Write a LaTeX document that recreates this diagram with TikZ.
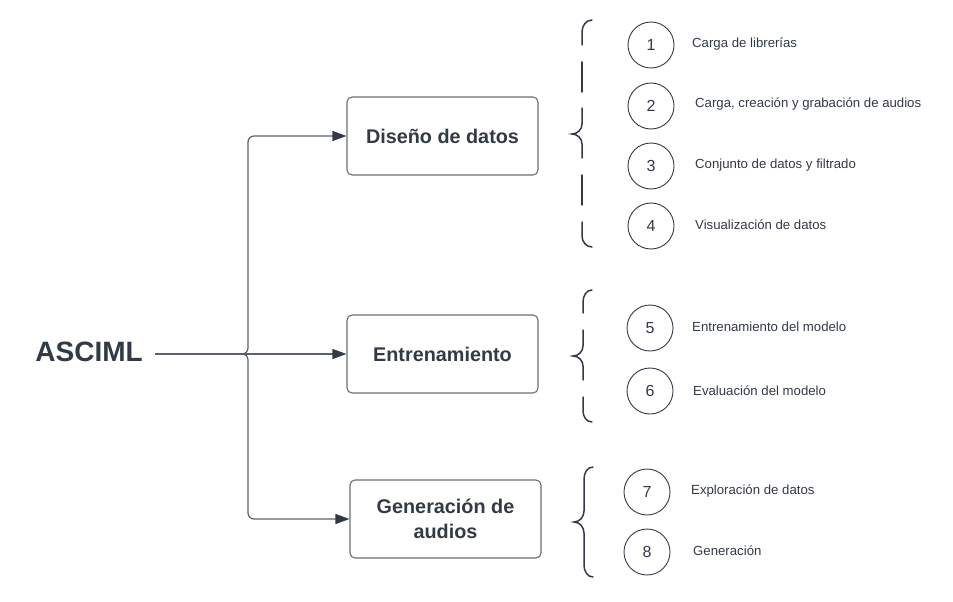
\documentclass[tikz,border=0pt]{standalone}
\usepackage{fontspec}
\setmainfont{Liberation Sans}
\usetikzlibrary{arrows.meta}
\definecolor{txt}{HTML}{333A45}
\definecolor{ln}{HTML}{5A616B}
\definecolor{bx}{HTML}{6A6E75}
\tikzset{
  box/.style={draw=bx, line width=1.1pt, rounded corners=5pt, minimum width=191pt, minimum height=78pt, align=center, font=\fontsize{19.8}{23}\selectfont\bfseries, text=txt, inner sep=0pt},
  num/.style={draw=txt, line width=0.9pt, circle, minimum size=46pt, inner sep=0pt, font=\fontsize{16}{18}\selectfont, text=txt},
  lbl/.style={anchor=west, font=\fontsize{13.2}{15}\selectfont, text=txt, inner sep=0pt},
  conn/.style={draw=ln, line width=1.2pt, rounded corners=6pt},
  arr/.style={-{Triangle[length=14pt,width=10pt,color=txt]}},
  brc/.style={draw=txt, line width=1.5pt, line cap=round}
}
\begin{document}
\begin{tikzpicture}[x=1pt,y=-1pt]
\useasboundingbox (0,0) rectangle (953,602);
\node[anchor=east, font=\fontsize{28}{32}\selectfont\bfseries, text=txt, inner sep=0pt] (asciml) at (143,352) {ASCIML};
\coordinate (start) at (155,354);
\coordinate (j) at (248,354);
\node[box] (b1) at (442.5,136) {Diseño de datos};
\node[box] (b2) at (442.5,354) {Entrenamiento};
\node[box] (b3) at (445.5,519) {Generación de\\[2pt]audios};
\coordinate (t1) at (j |- b1.west);
\coordinate (t3) at (j |- b3.west);
\draw[conn,arr] (start) -- (b2.west);
\draw[conn,arr] (start) -- (j) -- (t1) -- (b1.west);
\draw[conn,arr] (start) -- (j) -- (t3) -- (b3.west);
% brace 1 (dashed)
\draw[brc] (592,20) to[out=180,in=90] (582,32) -- (582,45);
\draw[brc] (582,62) -- (582,92);
\draw[brc] (582,108) -- (582,124) to[out=-90,in=0] (572,134) to[out=0,in=90] (582,144) -- (582,158);
\draw[brc] (582,175) -- (582,205);
\draw[brc] (582,222) -- (582,236) to[out=-90,in=180] (592,247);
% brace 2 (dashed)
\draw[brc] (592,290) to[out=180,in=90] (583,302) -- (583,313);
\draw[brc] (583,330) -- (583,346) to[out=-90,in=0] (573,356) to[out=0,in=90] (583,366) -- (583,380);
\draw[brc] (583,397) -- (583,411) to[out=-90,in=180] (592,422);
% brace 3 (solid)
\draw[brc] (593,467) to[out=180,in=90] (584,479) -- (584,511) to[out=-90,in=0] (574,522) to[out=0,in=90] (584,533) -- (584,565) to[out=-90,in=180] (593,577);
% circles
\node[num] (c1) at (651,45) {1};
\node[num] (c2) at (651,106) {2};
\node[num] (c3) at (651,166) {3};
\node[num] (c4) at (651,226) {4};
\node[num] (c5) at (650,328) {5};
\node[num] (c6) at (650,391) {6};
\node[num] (c7) at (647,492) {7};
\node[num] (c8) at (647,552) {8};
\node[lbl] (l1) at (692,44) {Carga de librerías};
\node[lbl] (l2) at (695,104) {Carga, creación y grabación de audios};
\node[lbl] (l3) at (695,165) {Conjunto de datos y filtrado};
\node[lbl] (l4) at (695,225) {Visualización de datos};
\node[lbl] (l5) at (692,327) {Entrenamiento del modelo};
\node[lbl] (l6) at (693,391) {Evaluación del modelo};
\node[lbl] (l7) at (691,491) {Exploración de datos};
\node[lbl] (l8) at (693,551) {Generación};
\end{tikzpicture}
\end{document}
